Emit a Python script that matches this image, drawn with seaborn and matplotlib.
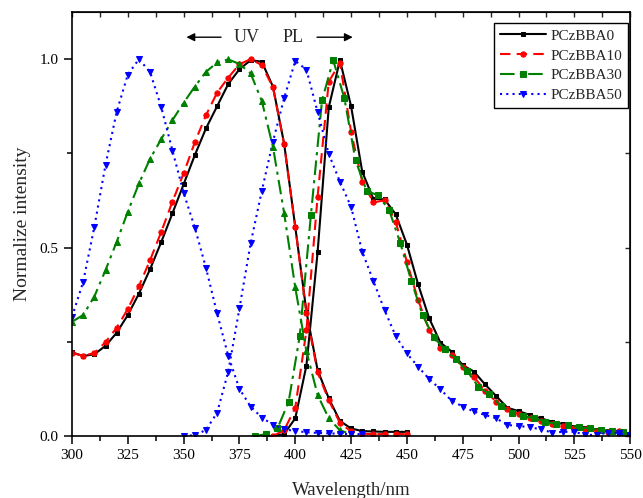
import numpy as np
import pandas as pd
import matplotlib
matplotlib.use("Agg")
import matplotlib.pyplot as plt
from matplotlib.ticker import MultipleLocator
import seaborn as sns

sns.set_style("ticks")
plt.rcParams['font.family'] = ['Liberation Serif', 'DejaVu Serif']
plt.rcParams['mathtext.fontset'] = 'stix'

# ---- UV absorption (nm, normalized) ----
uv_x = [300, 305, 310, 315, 320, 325, 330, 335, 340, 345, 350, 355, 360, 365, 370,
        375, 380, 385, 390, 395, 400, 405, 410, 415, 420, 425, 430, 435, 440, 445, 450]
uv_0 = [0.222, 0.212, 0.217, 0.239, 0.274, 0.321, 0.378, 0.443, 0.515, 0.591, 0.668,
        0.745, 0.816, 0.875, 0.934, 0.973, 0.997, 0.993, 0.927, 0.776, 0.555, 0.330,
        0.175, 0.100, 0.040, 0.020, 0.013, 0.012, 0.011, 0.011, 0.011]
uv_10 = [0.220, 0.213, 0.220, 0.249, 0.287, 0.337, 0.398, 0.467, 0.542, 0.622, 0.697,
         0.779, 0.851, 0.911, 0.951, 0.986, 1.000, 0.984, 0.925, 0.775, 0.555, 0.325,
         0.169, 0.095, 0.035, 0.012, 0.006, 0.005, 0.005, 0.005, 0.005]
uv_x30 = uv_x[:26]
uv_30 = [0.303, 0.321, 0.370, 0.440, 0.515, 0.595, 0.670, 0.736, 0.788, 0.838, 0.884,
         0.927, 0.966, 0.991, 0.999, 0.987, 0.962, 0.889, 0.767, 0.592, 0.394, 0.225,
         0.109, 0.047, 0.015, 0.005]
uv_x50 = uv_x[:27]
uv_50 = [0.316, 0.409, 0.555, 0.719, 0.860, 0.959, 1.000, 0.965, 0.872, 0.757, 0.645,
         0.553, 0.446, 0.325, 0.212, 0.125, 0.078, 0.049, 0.030, 0.018, 0.013, 0.010,
         0.008, 0.007, 0.006, 0.005, 0.005]

# ---- PL emission ----
pl_x = [390, 395, 400, 405, 410, 415, 420, 425, 430, 435, 440, 445, 450, 455, 460, 465,
        470, 475, 480, 485, 490, 495, 500, 505, 510, 515, 520, 525, 530, 535, 540, 545, 550]
pl_0 = [0.0, 0.005, 0.047, 0.187, 0.487, 0.872, 0.997, 0.875, 0.701, 0.629, 0.628, 0.588,
        0.508, 0.403, 0.312, 0.248, 0.224, 0.188, 0.171, 0.137, 0.106, 0.075, 0.066, 0.056,
        0.047, 0.038, 0.032, 0.025, 0.020, 0.016, 0.013, 0.009, 0.005]
pl_10 = [0.0, 0.015, 0.075, 0.280, 0.635, 0.940, 0.990, 0.807, 0.675, 0.620, 0.625, 0.568,
         0.462, 0.361, 0.281, 0.233, 0.215, 0.184, 0.157, 0.120, 0.091, 0.071, 0.058, 0.047,
         0.041, 0.032, 0.027, 0.020, 0.018, 0.014, 0.011, 0.014, 0.006]
pl_x30 = [382, 387, 392, 397, 402, 407, 412, 417, 422, 427, 432, 437, 442, 447, 452, 457,
          462, 467, 472, 477, 482, 487, 492, 497, 502, 507, 512, 517, 522, 527, 532, 537,
          542, 547]
pl_30 = [0.0, 0.005, 0.020, 0.090, 0.265, 0.586, 0.891, 0.997, 0.896, 0.731, 0.650, 0.639,
         0.600, 0.513, 0.411, 0.321, 0.262, 0.230, 0.203, 0.172, 0.131, 0.111, 0.080, 0.062,
         0.053, 0.047, 0.038, 0.032, 0.029, 0.023, 0.020, 0.016, 0.013, 0.010]
pl_x50 = [350, 355, 360, 365, 370, 375, 380, 385, 390, 395, 400, 405, 410, 415, 420, 425,
          430, 435, 440, 445, 450, 455, 460, 465, 470, 475, 480, 485, 490, 495, 500, 505,
          510, 515, 520, 525, 530, 535, 540, 545, 550]
pl_50 = [0.0, 0.002, 0.016, 0.062, 0.171, 0.339, 0.511, 0.650, 0.781, 0.896, 0.995, 0.972,
         0.860, 0.748, 0.675, 0.608, 0.489, 0.411, 0.334, 0.265, 0.219, 0.184, 0.151, 0.124,
         0.094, 0.078, 0.065, 0.056, 0.047, 0.029, 0.027, 0.023, 0.018, 0.009, 0.011, 0.011,
         0.003, 0.003, 0.009, 0.007, 0.003]

labels = ['PCzBBA0', 'PCzBBA10', 'PCzBBA30', 'PCzBBA50']

fig = plt.figure(figsize=(6.43, 4.98), dpi=100)
ax = fig.add_axes([0.112, 0.1245, 0.868, 0.8515])

lw = 1.5
# PL curves (these carry the legend)
sns.lineplot(x=pl_x, y=pl_0, ax=ax, color='black', linestyle='-', lw=lw,
             marker='s', markersize=3.3, markeredgecolor='black', label=labels[0])
sns.lineplot(x=pl_x, y=pl_10, ax=ax, color='red', linestyle=(0, (5, 3)), lw=lw,
             marker='o', markersize=3.8, markeredgecolor='red', label=labels[1])
sns.lineplot(x=pl_x30, y=pl_30, ax=ax, color='green', linestyle=(0, (7, 2.5, 1.5, 2.5)), lw=lw,
             marker='s', markersize=3.8, markeredgecolor='green', label=labels[2])
sns.lineplot(x=pl_x50, y=pl_50, ax=ax, color='blue', linestyle=(0, (1, 2)), lw=lw,
             marker='v', markersize=4.5, markeredgecolor='blue', label=labels[3])

# UV curves
sns.lineplot(x=uv_x, y=uv_0, ax=ax, color='black', linestyle='-', lw=lw,
             marker='s', markersize=3.3, markeredgecolor='black')
sns.lineplot(x=uv_x, y=uv_10, ax=ax, color='red', linestyle=(0, (5, 3)), lw=lw,
             marker='o', markersize=3.8, markeredgecolor='red')
sns.lineplot(x=uv_x30, y=uv_30, ax=ax, color='green', linestyle=(0, (7, 2.5, 1.5, 2.5)), lw=lw,
             marker='^', markersize=4.2, markeredgecolor='green')
sns.lineplot(x=uv_x50, y=uv_50, ax=ax, color='blue', linestyle=(0, (1, 2)), lw=lw,
             marker='v', markersize=4.5, markeredgecolor='blue')

ax.set_xlim(300, 550)
ax.set_ylim(0, 1.125)
ax.xaxis.set_major_locator(MultipleLocator(25))
ax.xaxis.set_minor_locator(MultipleLocator(12.5))
ax.yaxis.set_major_locator(MultipleLocator(0.5))
ax.yaxis.set_minor_locator(MultipleLocator(0.25))
ax.xaxis.set_major_formatter(matplotlib.ticker.FormatStrFormatter('%d'))
ax.yaxis.set_major_formatter(matplotlib.ticker.FormatStrFormatter('%.1f'))

for s in ax.spines.values():
    s.set_linewidth(1.2)
    s.set_color('black')
    s.set_visible(True)

ax.tick_params(which='both', direction='out', top=False, right=False, width=1.1,
               labelsize=11, colors='black')
ax.tick_params(which='major', length=6)
ax.tick_params(which='minor', length=3.5)

# inward ticks on top and right
axt = ax.secondary_xaxis('top')
axt.xaxis.set_major_locator(MultipleLocator(12.5))
axt.tick_params(direction='in', length=3.5, width=1.0, labeltop=False)
axr = ax.secondary_yaxis('right')
axr.yaxis.set_major_locator(MultipleLocator(0.25))
axr.tick_params(direction='in', length=3.5, width=1.0, labelright=False)

ax.set_xlabel('Wavelength/nm', fontsize=13.5, labelpad=14)
ax.set_ylabel('Normalize intensity', fontsize=14, labelpad=6)

# UV / PL markers
ax.text(378, 1.058, 'UV', fontsize=13, ha='center', va='center')
ax.text(399, 1.058, 'PL', fontsize=13, ha='center', va='center')
ax.annotate('', xy=(350, 1.058), xytext=(368, 1.058),
            arrowprops=dict(arrowstyle='-|>', color='black', lw=1.0, mutation_scale=12))
ax.annotate('', xy=(427, 1.058), xytext=(408.5, 1.058),
            arrowprops=dict(arrowstyle='-|>', color='black', lw=1.0, mutation_scale=12))

h, l = ax.get_legend_handles_labels()
leg = ax.legend(h[:4], l[:4], loc='upper right', bbox_to_anchor=(0.997, 0.974),
                fontsize=11, frameon=True, fancybox=False, framealpha=1,
                edgecolor='black', handlelength=3.0, labelspacing=0.4,
                borderpad=0.4, handletextpad=0.3, borderaxespad=0)
leg.get_frame().set_linewidth(1.0)

fig.savefig('out.png', dpi=100)
